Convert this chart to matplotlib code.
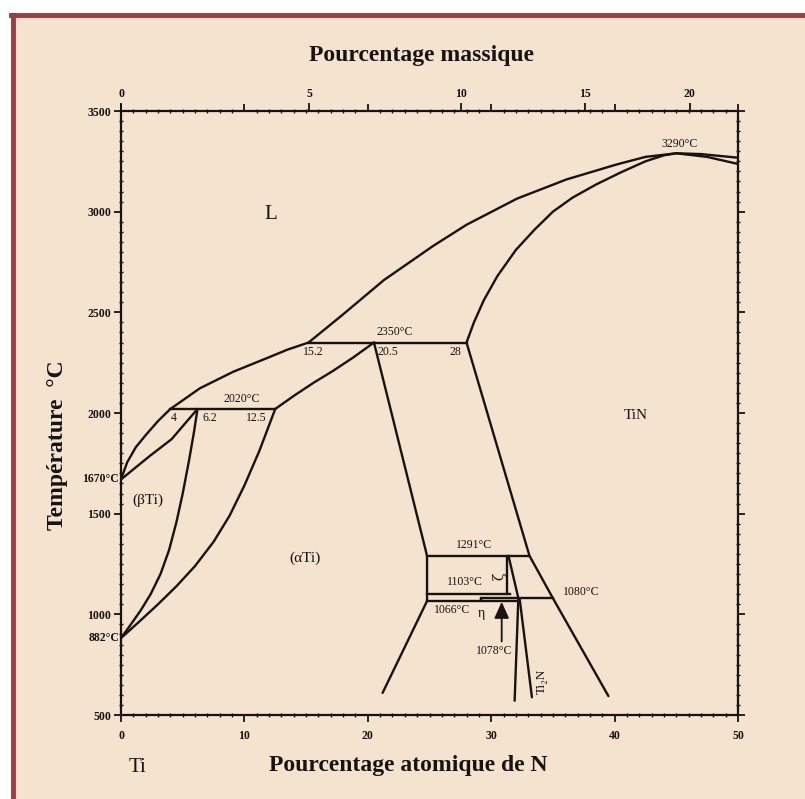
import numpy as np
import matplotlib
matplotlib.use("Agg")
import matplotlib.pyplot as plt
from matplotlib.patches import Rectangle
from matplotlib.lines import Line2D
from matplotlib.ticker import MultipleLocator

plt.rcParams["font.family"] = ["Liberation Serif", "DejaVu Serif"]

PEACH = "#f4e3cf"
EDGE = "#a13c3c"
INK = "#161311"
LW = 1.7

# --- phase boundaries, at.% N vs temperature (°C) ---
liq_lo_x = [0.0, 0.5, 1.2, 2.0, 3.0, 4.0, 6.4, 9.1, 11.8, 13.5, 15.2]
liq_lo_t = [1670, 1755, 1830, 1890, 1960, 2020, 2123, 2205, 2272, 2315, 2350]

liq_hi_x = [15.2, 18.0, 21.3, 25.3, 28.0, 32.1, 36.1, 40.2, 42.5, 45.0, 47.0, 50.0]
liq_hi_t = [2350, 2490, 2660, 2830, 2935, 3065, 3160, 3235, 3272, 3290, 3286, 3268]

tin_sol_x = [28.0, 28.6, 29.4, 30.5, 32.0, 33.5, 35.0, 36.6, 38.5, 40.5, 42.5, 44.0, 45.0,
             47.5, 50.0]
tin_sol_t = [2350, 2450, 2560, 2680, 2810, 2910, 3000, 3070, 3135, 3195, 3250, 3280, 3290,
             3272, 3237]

beta_sol_x = [0.0, 2.3, 4.1, 6.2]
beta_sol_t = [1670, 1785, 1870, 2020]

beta_trans_x = [0.0, 0.8, 1.6, 2.4, 3.2, 3.9, 4.5, 5.0, 5.5, 5.9, 6.2]
beta_trans_t = [882, 950, 1020, 1100, 1200, 1320, 1460, 1600, 1760, 1900, 2020]

alpha_trans_x = [0.0, 1.5, 3.0, 4.5, 6.0, 7.5, 8.8, 10.0, 11.2, 12.5]
alpha_trans_t = [882, 965, 1050, 1140, 1240, 1360, 1490, 1640, 1810, 2020]

alpha_sol_x = [12.5, 14.0, 15.6, 17.2, 18.8, 20.5]
alpha_sol_t = [2020, 2085, 2150, 2210, 2275, 2350]

alpha_solv_x = [20.5, 24.8, 24.8, 21.2]
alpha_solv_t = [2350, 1291, 1066, 610]

tin_solv_x = [28.0, 33.1, 35.0, 39.5]
tin_solv_t = [2350, 1291, 1080, 594]

zeta_x = [31.3, 31.3]
zeta_t = [1291, 1103]
zeta_edge_x = [31.4, 32.2]
zeta_edge_t = [1291, 1080]
ti2n_left_x = [32.2, 31.9]
ti2n_left_t = [1080, 571]
ti2n_right_x = [32.3, 33.3]
ti2n_right_t = [1080, 588]
eta_step_x = [29.2, 29.2]
eta_step_t = [1066, 1080]

# invariant lines: (temperature, x start, x end)
iso_t = [2020, 2350, 1291, 1103, 1080, 1066]
iso_x0 = [4.0, 15.2, 24.8, 24.8, 29.2, 24.8]
iso_x1 = [12.5, 28.0, 33.1, 31.5, 35.0, 32.2]

# composition marks on the invariants
comp_labels = ["4", "6.2", "12.5", "15.2", "20.5", "28"]
comp_x = [4.3, 7.2, 11.0, 15.6, 21.6, 27.1]
comp_t = [1975, 1975, 1975, 2302, 2302, 2302]

temp_labels = ["3290°C", "2350°C", "2020°C", "1291°C", "1103°C", "1080°C", "1066°C"]
temp_x = [45.3, 22.2, 9.8, 28.6, 27.9, 37.3, 26.8]
temp_t = [3335, 2400, 2068, 1345, 1160, 1112, 1020]

phase_labels = ["L", "(βTi)", "(αTi)", "TiN"]
phase_x = [12.1, 2.2, 14.9, 41.7]
phase_t = [2985, 1565, 1280, 1990]


def at_to_wt(a):
    a = np.asarray(a, dtype=float)
    return 100 * 14.007 * a / (14.007 * a + 47.867 * (100 - a))


def wt_to_at(w):
    w = np.asarray(w, dtype=float)
    return 100 * (w / 14.007) / (w / 14.007 + (100 - w) / 47.867)


fig = plt.figure(figsize=(8.05, 7.99), dpi=100)
fig.patch.set_facecolor("white")
fig.patches.append(Rectangle((11 / 805, 0), 1, 784 / 799, transform=fig.transFigure,
                             facecolor=PEACH, edgecolor="none", zorder=-10))
fig.add_artist(Line2D([13 / 805, 13 / 805], [0, 784 / 799], color=EDGE, lw=3.5,
                      transform=fig.transFigure))
fig.add_artist(Line2D([11 / 805, 1], [784 / 799, 784 / 799], color=EDGE, lw=3.5,
                      transform=fig.transFigure))

ax = fig.add_axes([121 / 805, 84 / 799, 617 / 805, 604 / 799])
ax.set_facecolor("none")
ax.set_xlim(0, 50)
ax.set_ylim(500, 3500)

curves = [
    (liq_lo_x, liq_lo_t), (liq_hi_x, liq_hi_t), (tin_sol_x, tin_sol_t),
    (beta_sol_x, beta_sol_t), (beta_trans_x, beta_trans_t),
    (alpha_trans_x, alpha_trans_t), (alpha_sol_x, alpha_sol_t),
    (alpha_solv_x, alpha_solv_t), (tin_solv_x, tin_solv_t),
    (zeta_x, zeta_t), (zeta_edge_x, zeta_edge_t),
    (ti2n_left_x, ti2n_left_t), (ti2n_right_x, ti2n_right_t),
    (eta_step_x, eta_step_t),
]
for cx, ct in curves:
    ax.plot(cx, ct, color=INK, lw=LW, solid_capstyle="round", solid_joinstyle="round")
for t, x0, x1 in zip(iso_t, iso_x0, iso_x1):
    ax.plot([x0, x1], [t, t], color=INK, lw=LW)

for s, x, t in zip(comp_labels, comp_x, comp_t):
    ax.text(x, t, s, ha="center", va="center", fontsize=8.5, color=INK)
for s, x, t in zip(temp_labels, temp_x, temp_t):
    ax.text(x, t, s, ha="center", va="center", fontsize=8.5, color=INK)
ax.text(phase_x[0], phase_t[0], phase_labels[0], ha="center", va="center", fontsize=15, color=INK)
for s, x, t in zip(phase_labels[1:], phase_x[1:], phase_t[1:]):
    ax.text(x, t, s, ha="center", va="center", fontsize=11, color=INK)

ax.text(29.2, 1005, "η", ha="center", va="center", fontsize=10, color=INK)
ax.text(30.7, 1190, "ζ", ha="center", va="center", fontsize=10, rotation=90, color=INK,
        family="DejaVu Serif")
ax.text(34.1, 665, "Ti₂N", ha="center", va="center", fontsize=9.5, rotation=90, color=INK)
ax.text(30.2, 818, "1078°C", ha="center", va="center", fontsize=8.5, color=INK)
ax.annotate("", xy=(30.85, 1062), xytext=(30.85, 865),
            arrowprops=dict(arrowstyle="-|>,head_length=1.0,head_width=0.45",
                            color=INK, lw=1.3, shrinkA=0, shrinkB=0))

# melting / transus points written beside the temperature axis
ax.text(-0.15, 1670, "1670°C", ha="right", va="center", fontsize=8.5,
        weight="bold", color=INK, clip_on=False)
ax.text(-0.15, 882, "882°C", ha="right", va="center", fontsize=8.5,
        weight="bold", color=INK, clip_on=False)

# axes frame and ticks
for sp in ax.spines.values():
    sp.set_linewidth(1.6)
    sp.set_color(INK)
ax.xaxis.set_major_locator(MultipleLocator(10))
ax.xaxis.set_minor_locator(MultipleLocator(1))
ax.yaxis.set_major_locator(MultipleLocator(500))
ax.yaxis.set_minor_locator(MultipleLocator(50))
ax.tick_params(which="major", direction="out", length=5, width=1.3, colors=INK,
               labelsize=8.5, top=True, right=True, pad=2)
ax.tick_params(which="minor", direction="inout", length=3.5, width=1.0, colors=INK,
               top=True, right=True)
ax.tick_params(axis="x", which="major", top=True, labeltop=False, pad=6)
for lab in ax.get_xticklabels() + ax.get_yticklabels():
    lab.set_fontweight("bold")

sec = ax.secondary_xaxis("top", functions=(at_to_wt, wt_to_at))
sec.set_xticks([0, 5, 10, 15, 20])
sec.tick_params(direction="out", length=6, width=1.3, colors=INK, labelsize=8.5, pad=2)
sec.xaxis.set_minor_locator(plt.NullLocator())
sec.spines["top"].set_visible(False)
for lab in sec.get_xticklabels():
    lab.set_fontweight("bold")

fig.text(421 / 805, 1 - 55 / 799, "Pourcentage massique", ha="center", va="center",
         fontsize=17, weight="bold", color=INK)
fig.text(408 / 805, 1 - 766 / 799, "Pourcentage atomique de N", ha="center", va="center",
         fontsize=17, weight="bold", color=INK)
fig.text(58 / 805, 1 - 445 / 799, "Température  °C", ha="center", va="center",
         fontsize=17, weight="bold", rotation=90, color=INK)
fig.text(137 / 805, 1 - 768 / 799, "Ti", ha="center", va="center", fontsize=15, color=INK)

fig.savefig("out.png", dpi=100, facecolor=fig.get_facecolor())
